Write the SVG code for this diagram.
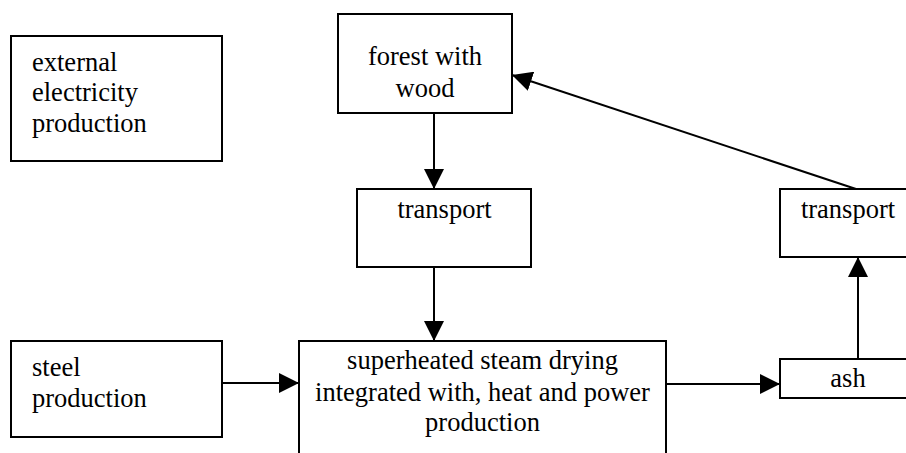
<svg xmlns="http://www.w3.org/2000/svg" width="906" height="453" viewBox="0 0 906 453">
<style>
.box{fill:#fff;stroke:#000;stroke-width:2}
.t{font-family:"Liberation Serif","Times New Roman",serif;font-size:26.5px;fill:#000}
.c{text-anchor:middle}
.ln{stroke:#000;stroke-width:2;fill:none;marker-end:url(#ah)}
</style>
<defs>
<marker id="ah" markerUnits="userSpaceOnUse" markerWidth="20" markerHeight="20" refX="20" refY="10" orient="auto" viewBox="0 0 20 20">
<path d="M0,0 L20,10 L0,20 Z" fill="#000"/>
</marker>
</defs>
<rect width="906" height="453" fill="#fff"/>
<g id="connectors">
<line class="ln" x1="434" y1="113" x2="434" y2="189"/>
<line class="ln" x1="434" y1="267" x2="434" y2="341"/>
<line class="ln" x1="222" y1="383" x2="299" y2="383"/>
<line class="ln" x1="666" y1="384" x2="780" y2="384"/>
<line class="ln" x1="858" y1="359" x2="858" y2="257"/>
<line class="ln" x1="856" y1="189" x2="512" y2="75"/>
</g>
<g id="external">
<rect class="box" x="11" y="36" width="211" height="125"/>
<text class="t" x="32" y="71">external</text>
<text class="t" x="32" y="101">electricity</text>
<text class="t" x="32" y="132">production</text>
</g>
<g id="forest">
<rect class="box" x="338" y="14" width="174" height="99"/>
<text class="t c" x="425" y="65">forest with</text>
<text class="t c" x="425" y="97">wood</text>
</g>
<g id="transport1">
<rect class="box" x="357" y="189" width="174" height="78"/>
<text class="t c" x="444.5" y="218">transport</text>
</g>
<g id="transport2">
<rect class="box" x="780" y="189" width="140" height="68"/>
<text class="t c" x="848" y="218">transport</text>
</g>
<g id="steel">
<rect class="box" x="11" y="341" width="211" height="96"/>
<text class="t" x="32" y="376">steel</text>
<text class="t" x="32" y="407">production</text>
</g>
<g id="main">
<rect class="box" x="299" y="341" width="367" height="130"/>
<text class="t c" x="482.5" y="369">superheated steam drying</text>
<text class="t c" x="482.5" y="401">integrated with, heat and power</text>
<text class="t c" x="482.5" y="431">production</text>
</g>
<g id="ash">
<rect class="box" x="780" y="359" width="140" height="39"/>
<text class="t c" x="848" y="387">ash</text>
</g>
</svg>
